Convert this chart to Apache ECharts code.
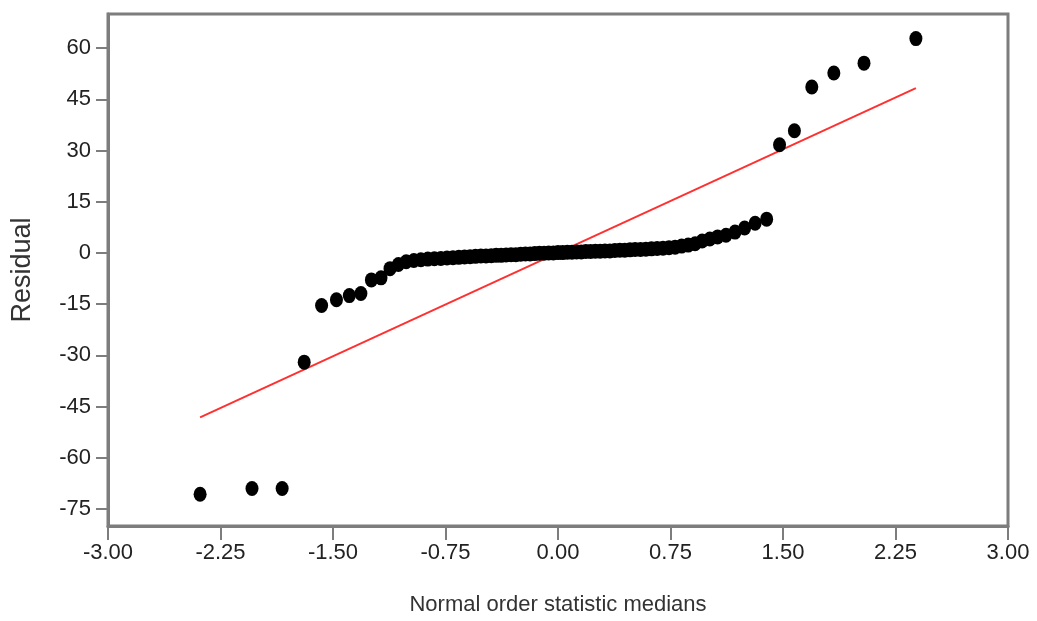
<!DOCTYPE html>
<html>
<head>
<meta charset="utf-8">
<script src="https://cdn.jsdelivr.net/npm/echarts@6/dist/echarts.min.js"></script>
<style>
html,body{margin:0;padding:0;background:#fff;}
#chart{width:1037px;height:621px;}
</style>
</head>
<body>
<div id="chart"></div>
<script>
// Normal order statistic medians (x) and residuals (y)
const xMedians = [
  -2.386, -2.040, -1.839, -1.692, -1.576, -1.477, -1.391, -1.314, -1.244, -1.180,
  -1.120, -1.064, -1.012, -0.961, -0.914, -0.868, -0.824, -0.781, -0.740, -0.700,
  -0.661, -0.623, -0.586, -0.550, -0.514, -0.480, -0.445, -0.412, -0.379, -0.346,
  -0.313, -0.281, -0.249, -0.217, -0.186, -0.155, -0.124, -0.093, -0.062, -0.031,
  0.000,
  0.031, 0.062, 0.093, 0.124, 0.155, 0.186, 0.217, 0.249, 0.281, 0.313,
  0.346, 0.379, 0.412, 0.445, 0.480, 0.514, 0.550, 0.586, 0.623, 0.661,
  0.700, 0.740, 0.781, 0.824, 0.868, 0.914, 0.961, 1.012, 1.064, 1.120,
  1.180, 1.244, 1.314, 1.391, 1.477, 1.576, 1.692, 1.839, 2.040, 2.386
];
const residuals = [
  -70.7, -69.0, -69.0, -32.0, -15.4, -13.7, -12.5, -11.9, -7.9, -7.3,
  -4.6, -3.4, -2.6, -2.2, -2.0, -1.8, -1.7, -1.6, -1.5, -1.4,
  -1.3, -1.2, -1.1, -1.0, -0.9, -0.9, -0.8, -0.7, -0.7, -0.6,
  -0.5, -0.5, -0.4, -0.3, -0.3, -0.2, -0.1, -0.1, 0.0, 0.0,
  0.1,
  0.1, 0.2, 0.2, 0.3, 0.3, 0.4, 0.4, 0.5, 0.5, 0.6,
  0.6, 0.7, 0.8, 0.8, 0.9, 1.0, 1.0, 1.1, 1.2, 1.3,
  1.4, 1.5, 1.7, 2.0, 2.3, 2.7, 3.5, 4.1, 4.7, 5.2,
  6.1, 7.3, 8.7, 9.9, 31.7, 35.8, 48.6, 52.7, 55.6, 62.8
];
// Reference line endpoints
const refLineX = [-2.386, 2.386];
const refLineY = [-48.2, 48.3];
// Tick labels
const yTickValues = [-75, -60, -45, -30, -15, 0, 15, 30, 45, 60];
const xTickValues = [-3.00, -2.25, -1.50, -0.75, 0.00, 0.75, 1.50, 2.25, 3.00];
const xAxisTitle = 'Normal order statistic medians';
const yAxisTitle = 'Residual';

const points = xMedians.map((x, i) => [x, residuals[i]]);
const linePts = refLineX.map((x, i) => [x, refLineY[i]]);

const FONT = "'Liberation Sans', Arial, sans-serif";
const AXIS_COLOR = '#7d7d7d';
const TEXT_COLOR = '#222';

const chart = echarts.init(document.getElementById('chart'), null, {renderer: 'canvas'});
chart.setOption({
  backgroundColor: '#ffffff',
  animation: false,
  grid: {
    left: 108, right: 29, top: 14, bottom: 93,
    show: true, borderColor: AXIS_COLOR, borderWidth: 3, backgroundColor: 'transparent'
  },
  xAxis: {
    type: 'value',
    min: -3, max: 3, interval: 0.75,
    name: xAxisTitle,
    nameLocation: 'middle',
    nameGap: 68,
    nameTextStyle: {fontFamily: FONT, fontSize: 22, color: '#333'},
    axisLine: {show: true, onZero: false, lineStyle: {color: AXIS_COLOR, width: 3}},
    axisTick: {show: true, inside: false, length: 14, customValues: xTickValues, lineStyle: {color: AXIS_COLOR, width: 2}},
    axisLabel: {
      show: true, margin: 16, fontFamily: FONT, fontSize: 22, color: TEXT_COLOR,
      customValues: xTickValues,
      formatter: v => Number(v).toFixed(2)
    },
    splitLine: {show: false}
  },
  yAxis: {
    type: 'value',
    min: -80, max: 70,
    name: yAxisTitle,
    nameLocation: 'middle',
    nameGap: 72,
    nameRotate: 90,
    nameTextStyle: {fontFamily: FONT, fontSize: 27, color: '#333'},
    axisLine: {show: true, onZero: false, lineStyle: {color: AXIS_COLOR, width: 3}},
    axisTick: {show: true, inside: false, length: 12, customValues: yTickValues, lineStyle: {color: AXIS_COLOR, width: 2}},
    axisLabel: {
      show: true, margin: 17, fontFamily: FONT, fontSize: 22, color: TEXT_COLOR,
      customValues: yTickValues
    },
    splitLine: {show: false}
  },
  series: [
    {
      type: 'line',
      data: linePts,
      showSymbol: false,
      symbol: 'none',
      lineStyle: {color: '#ff3030', width: 2},
      z: 2,
      silent: true
    },
    {
      type: 'scatter',
      data: points,
      symbol: 'circle',
      symbolSize: [13, 15],
      itemStyle: {color: '#000000', opacity: 1},
      z: 3,
      silent: true
    }
  ]
});
</script>
</body>
</html>
